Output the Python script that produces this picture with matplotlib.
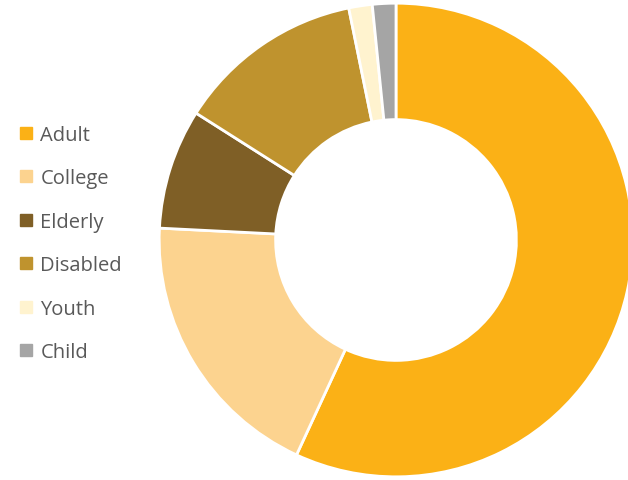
import matplotlib
matplotlib.use('Agg')
import matplotlib.pyplot as plt
from matplotlib.lines import Line2D

labels = ['Adult', 'College', 'Elderly', 'Disabled', 'Youth', 'Child']
shares = [56.9, 18.9, 8.2, 12.8, 1.6, 1.6]
colors = ['#FBB116', '#FCD38F', '#7F5F26', '#BF932E', '#FFF3CF', '#A5A5A5']

fig = plt.figure(figsize=(6.28, 4.81), dpi=100)
ax = fig.add_axes([(396 - 238) / 628, (481 - 241 - 238) / 481, 476 / 628, 476 / 481])
ax.pie(shares, colors=colors, startangle=90, counterclock=False,
       wedgeprops=dict(width=117 / 238, edgecolor='white', linewidth=2))
ax.set_xlim(-1.005, 1.005)
ax.set_ylim(-1.005, 1.005)
ax.set_aspect('equal')

handles = [Line2D([], [], marker='s', ls='', ms=8, mfc=c, mec=c) for c in colors]
fig.legend(handles, labels, loc='upper left', bbox_to_anchor=(2 / 628, 1 - 108 / 481),
           frameon=False, prop=dict(family='Open Sans', size=14.5), labelcolor='#595959',
           handlelength=0.6, handletextpad=0.4, labelspacing=1.16)

fig.savefig('out.png', dpi=100)
